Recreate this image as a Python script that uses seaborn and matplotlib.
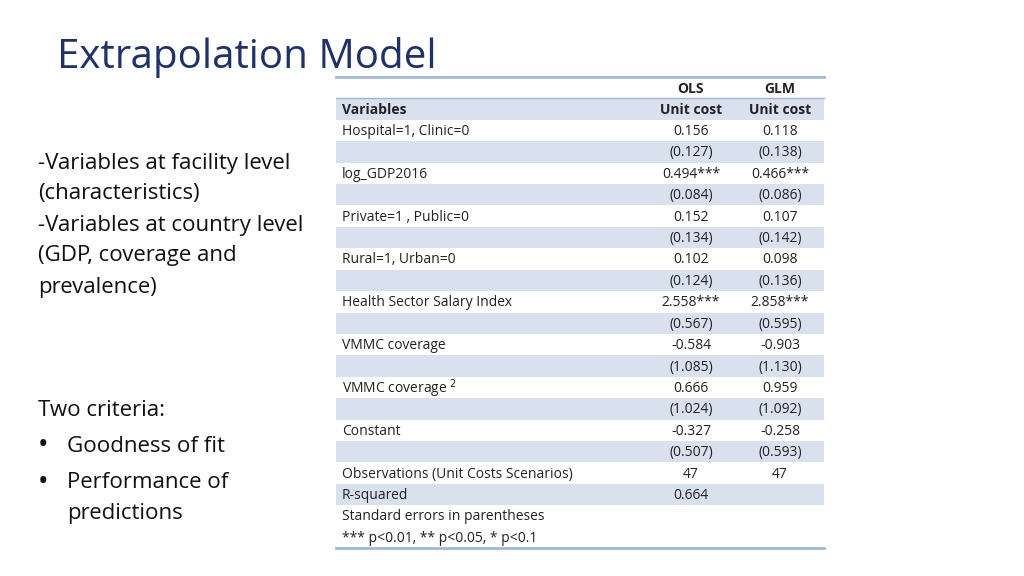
import numpy as np
import seaborn as sns
import matplotlib.pyplot as plt
from matplotlib.colors import ListedColormap

# table content
variables = ["", "Variables", "Hospital=1, Clinic=0", "", "log_GDP2016", "", "Private=1 , Public=0", "",
             "Rural=1, Urban=0", "", "Health Sector Salary Index", "", "VMMC coverage", "",
             "VMMC coverage $^{2}$", "", "Constant", "", "Observations (Unit Costs Scenarios)",
             "R-squared", "Standard errors in parentheses", "*** p<0.01, ** p<0.05, * p<0.1"]
ols = ["OLS", "Unit cost", "0.156", "(0.127)", "0.494***", "(0.084)", "0.152", "(0.134)", "0.102",
       "(0.124)", "2.558***", "(0.567)", "-0.584", "(1.085)", "0.666", "(1.024)", "-0.327",
       "(0.507)", "47", "0.664", "", ""]
glm = ["GLM", "Unit cost", "0.118", "(0.138)", "0.466***", "(0.086)", "0.107", "(0.142)", "0.098",
       "(0.136)", "2.858***", "(0.595)", "-0.903", "(1.130)", "0.959", "(1.092)", "-0.258",
       "(0.593)", "47", "", "", ""]
shaded = [0, 1, 0, 1, 0, 1, 0, 1, 0, 1, 0, 1, 0, 1, 0, 1, 0, 1, 0, 1, 0, 0]

left_lines = ["-Variables at facility level", "(characteristics)", "-Variables at country level",
              "(GDP, coverage and", "prevalence)"]
bullets = [["Goodness of fit"], ["Performance of", "predictions"]]

W, H = 1024, 576
plt.rcParams["font.family"] = "Open Sans"
fig = plt.figure(figsize=(W / 100, H / 100), dpi=100)

# table stripes
x0, x1, y0, y1 = 336, 824, 77, 548
ax = fig.add_axes([x0 / W, 1 - y1 / H, (x1 - x0) / W, (y1 - y0) / H])
sns.heatmap(np.array(shaded).reshape(-1, 1), cmap=ListedColormap(["white", "#dae1ee"]),
            cbar=False, ax=ax, xticklabels=False, yticklabels=False, vmin=0, vmax=1)
ax.axis("off")

ov = fig.add_axes([0, 0, 1, 1])
ov.set_xlim(0, W)
ov.set_ylim(H, 0)
ov.axis("off")
rh = (y1 - y0) / len(variables)
for i, (v, a, b) in enumerate(zip(variables, ols, glm)):
    yc = y0 + (i + 0.5) * rh + 1
    bold = "bold" if i < 2 else "normal"
    ov.text(342, yc, v, fontsize=10, va="center", ha="left", weight=bold, color="#222222")
    ov.text(691, yc, a, fontsize=10, va="center", ha="center", weight=bold, color="#222222")
    ov.text(780, yc, b, fontsize=10, va="center", ha="center", weight=bold, color="#222222")
ov.plot([x0, x1], [y0, y0], color="#9fb6d8", lw=2)
ov.plot([x0, x1], [y0 + rh, y0 + rh], color="#9fb6d8", lw=1)
ov.plot([x0, x1], [y1, y1], color="#9fb6d8", lw=2)

ov.text(57, 57, "Extrapolation Model", fontsize=29, color="#1f3168", va="center", ha="left")
for k, line in enumerate(left_lines):
    ov.text(38, 163 + k * 31, line, fontsize=16, va="center", ha="left", color="#111111")
ov.text(38, 410, "Two criteria:", fontsize=16, va="center", ha="left", color="#111111")
yb = 446
for lines in bullets:
    ov.text(38, yb, "\u2022", fontsize=20, va="center", ha="left", color="#111111")
    for line in lines:
        ov.text(67, yb, line, fontsize=16, va="center", ha="left", color="#111111")
        yb += 31
    yb += 6

fig.savefig("out.png", dpi=100)
